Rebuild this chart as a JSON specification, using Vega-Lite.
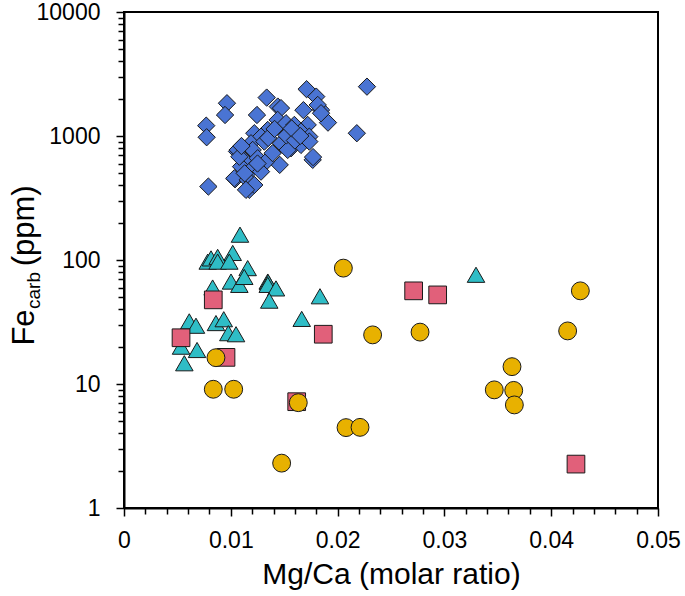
{
  "$schema": "https://vega.github.io/schema/vega-lite/v6.json",
  "width": 534,
  "height": 496,
  "autosize": {"type": "none"},
  "padding": {"left": 124, "top": 12, "right": 27, "bottom": 88},
  "background": "white",
  "config": {
    "font": "Liberation Sans",
    "view": {"stroke": "black", "strokeWidth": 2},
    "axis": {
      "grid": false,
      "domainColor": "black",
      "domainWidth": 2,
      "tickColor": "black",
      "tickWidth": 1.5,
      "labelColor": "black",
      "titleColor": "black",
      "labelFont": "Liberation Sans",
      "titleFont": "Liberation Sans",
      "titleFontWeight": "normal",
      "labelOverlap": false,
      "labelFlush": false
    }
  },
  "data": {
    "values": [
      {"group": "A", "mgca": 0.02275, "fe": 2500},
      {"group": "A", "mgca": 0.0218, "fe": 1053},
      {"group": "A", "mgca": 0.0171, "fe": 2384},
      {"group": "A", "mgca": 0.018, "fe": 2078},
      {"group": "A", "mgca": 0.01845, "fe": 1623},
      {"group": "A", "mgca": 0.0191, "fe": 1282},
      {"group": "A", "mgca": 0.0168, "fe": 1616},
      {"group": "A", "mgca": 0.01336, "fe": 2041},
      {"group": "A", "mgca": 0.0144, "fe": 1727},
      {"group": "A", "mgca": 0.0147, "fe": 1679},
      {"group": "A", "mgca": 0.00964, "fe": 1838},
      {"group": "A", "mgca": 0.00946, "fe": 1477},
      {"group": "A", "mgca": 0.0077, "fe": 1212},
      {"group": "A", "mgca": 0.00774, "fe": 977},
      {"group": "A", "mgca": 0.0079, "fe": 391},
      {"group": "A", "mgca": 0.01245, "fe": 1477},
      {"group": "A", "mgca": 0.0172, "fe": 1229},
      {"group": "A", "mgca": 0.01767, "fe": 642},
      {"group": "A", "mgca": 0.0177, "fe": 676},
      {"group": "A", "mgca": 0.01458, "fe": 585},
      {"group": "A", "mgca": 0.01173, "fe": 368},
      {"group": "A", "mgca": 0.0104, "fe": 448},
      {"group": "A", "mgca": 0.01058, "fe": 751},
      {"group": "A", "mgca": 0.01814, "fe": 1780},
      {"group": "A", "mgca": 0.01845, "fe": 1527},
      {"group": "A", "mgca": 0.01439, "fe": 1348},
      {"group": "A", "mgca": 0.01517, "fe": 1268},
      {"group": "A", "mgca": 0.01595, "fe": 1228},
      {"group": "A", "mgca": 0.01346, "fe": 1119},
      {"group": "A", "mgca": 0.0122, "fe": 1053},
      {"group": "A", "mgca": 0.01283, "fe": 988},
      {"group": "A", "mgca": 0.01533, "fe": 1053},
      {"group": "A", "mgca": 0.01657, "fe": 1086},
      {"group": "A", "mgca": 0.01735, "fe": 988},
      {"group": "A", "mgca": 0.0147, "fe": 874},
      {"group": "A", "mgca": 0.01564, "fe": 797},
      {"group": "A", "mgca": 0.01657, "fe": 847},
      {"group": "A", "mgca": 0.01735, "fe": 901},
      {"group": "A", "mgca": 0.01189, "fe": 874},
      {"group": "A", "mgca": 0.01314, "fe": 901},
      {"group": "A", "mgca": 0.01065, "fe": 772},
      {"group": "A", "mgca": 0.01205, "fe": 772},
      {"group": "A", "mgca": 0.01126, "fe": 642},
      {"group": "A", "mgca": 0.01252, "fe": 662},
      {"group": "A", "mgca": 0.0133, "fe": 621},
      {"group": "A", "mgca": 0.01096, "fe": 566},
      {"group": "A", "mgca": 0.01189, "fe": 533},
      {"group": "A", "mgca": 0.01283, "fe": 516},
      {"group": "A", "mgca": 0.01033, "fe": 456},
      {"group": "A", "mgca": 0.01158, "fe": 443},
      {"group": "A", "mgca": 0.0122, "fe": 403},
      {"group": "A", "mgca": 0.01142, "fe": 368},
      {"group": "A", "mgca": 0.01392, "fe": 727},
      {"group": "A", "mgca": 0.01533, "fe": 772},
      {"group": "A", "mgca": 0.0135, "fe": 965},
      {"group": "A", "mgca": 0.0141, "fe": 1140},
      {"group": "A", "mgca": 0.0152, "fe": 1010},
      {"group": "A", "mgca": 0.0108, "fe": 680},
      {"group": "A", "mgca": 0.0113, "fe": 500},
      {"group": "A", "mgca": 0.016, "fe": 920},
      {"group": "A", "mgca": 0.0125, "fe": 600},
      {"group": "A", "mgca": 0.011, "fe": 830},
      {"group": "A", "mgca": 0.0157, "fe": 1150},
      {"group": "A", "mgca": 0.0165, "fe": 1000},
      {"group": "B", "mgca": 0.01086, "fe": 160},
      {"group": "B", "mgca": 0.00784, "fe": 97},
      {"group": "B", "mgca": 0.00815, "fe": 103},
      {"group": "B", "mgca": 0.00877, "fe": 106},
      {"group": "B", "mgca": 0.00877, "fe": 97},
      {"group": "B", "mgca": 0.01018, "fe": 114},
      {"group": "B", "mgca": 0.00986, "fe": 97},
      {"group": "B", "mgca": 0.01158, "fe": 86},
      {"group": "B", "mgca": 0.01002, "fe": 67},
      {"group": "B", "mgca": 0.0108, "fe": 63},
      {"group": "B", "mgca": 0.01126, "fe": 73},
      {"group": "B", "mgca": 0.01346, "fe": 67},
      {"group": "B", "mgca": 0.0135, "fe": 66},
      {"group": "B", "mgca": 0.01346, "fe": 63},
      {"group": "B", "mgca": 0.01423, "fe": 59},
      {"group": "B", "mgca": 0.0136, "fe": 47},
      {"group": "B", "mgca": 0.0083, "fe": 60},
      {"group": "B", "mgca": 0.01835, "fe": 51},
      {"group": "B", "mgca": 0.01664, "fe": 33.5},
      {"group": "B", "mgca": 0.00611, "fe": 32},
      {"group": "B", "mgca": 0.00674, "fe": 29.5},
      {"group": "B", "mgca": 0.00861, "fe": 31},
      {"group": "B", "mgca": 0.00934, "fe": 33.3},
      {"group": "B", "mgca": 0.00977, "fe": 25.7},
      {"group": "B", "mgca": 0.01049, "fe": 25.2},
      {"group": "B", "mgca": 0.00534, "fe": 20},
      {"group": "B", "mgca": 0.00684, "fe": 18.8},
      {"group": "B", "mgca": 0.00565, "fe": 14.7},
      {"group": "B", "mgca": 0.03296, "fe": 76},
      {"group": "C", "mgca": 0.00836, "fe": 47.7},
      {"group": "C", "mgca": 0.00534, "fe": 23.6},
      {"group": "C", "mgca": 0.00955, "fe": 16.4},
      {"group": "C", "mgca": 0.01866, "fe": 25.2},
      {"group": "C", "mgca": 0.02712, "fe": 56.4},
      {"group": "C", "mgca": 0.02937, "fe": 52.3},
      {"group": "C", "mgca": 0.04232, "fe": 2.26},
      {"group": "C", "mgca": 0.01617, "fe": 7.2},
      {"group": "D", "mgca": 0.02054, "fe": 86},
      {"group": "D", "mgca": 0.02328, "fe": 24.9},
      {"group": "D", "mgca": 0.00861, "fe": 16.3},
      {"group": "D", "mgca": 0.00836, "fe": 9.07},
      {"group": "D", "mgca": 0.01027, "fe": 9.07},
      {"group": "D", "mgca": 0.01632, "fe": 7.07},
      {"group": "D", "mgca": 0.02079, "fe": 4.45},
      {"group": "D", "mgca": 0.0221, "fe": 4.47},
      {"group": "D", "mgca": 0.01476, "fe": 2.3},
      {"group": "D", "mgca": 0.04273, "fe": 56.4},
      {"group": "D", "mgca": 0.04154, "fe": 26.8},
      {"group": "D", "mgca": 0.02772, "fe": 26.2},
      {"group": "D", "mgca": 0.03633, "fe": 13.8},
      {"group": "D", "mgca": 0.03467, "fe": 8.97},
      {"group": "D", "mgca": 0.03649, "fe": 8.88},
      {"group": "D", "mgca": 0.03655, "fe": 6.78}
    ]
  },
  "layer": [
    {
      "mark": {"type": "point", "filled": true, "opacity": 1, "stroke": "#1a1a1a", "strokeWidth": 1},
      "encoding": {
        "x": {
          "field": "mgca",
          "type": "quantitative",
          "scale": {"domain": [0, 0.05], "nice": false, "zero": false},
          "axis": {
            "title": "Mg/Ca (molar ratio)",
            "titleFontSize": 30,
            "titleX": 267,
            "titleY": 51,
            "titleAlign": "center",
            "titleBaseline": "top",
            "labelFontSize": 23,
            "labelPadding": 13,
            "values": [0, 0.002, 0.004, 0.006, 0.008, 0.01, 0.012, 0.014, 0.016, 0.018, 0.02, 0.022, 0.024, 0.026, 0.028, 0.03, 0.032, 0.034, 0.036, 0.038, 0.04, 0.042, 0.044, 0.046, 0.048, 0.05],
            "labelExpr": "abs(datum.value * 100 - round(datum.value * 100)) < 0.001 ? format(datum.value, '~g') : ''",
            "tickSize": {"condition": {"test": "abs(datum.value * 100 - round(datum.value * 100)) < 0.001", "value": 8}, "value": 6}
          }
        },
        "y": {
          "field": "fe",
          "type": "quantitative",
          "scale": {"type": "log", "domain": [1, 10000], "nice": false},
          "axis": {
            "title": "Fe\u00a0\u00a0\u00a0\u00a0\u00a0(ppm)",
            "titleFontSize": 31,
            "titleAngle": 270,
            "titleAlign": "center",
            "titleBaseline": "alphabetic",
            "titleX": -91,
            "titleY": 253,
            "labelFontSize": 23,
            "labelPadding": 16,
            "values": [1, 2, 3, 4, 5, 6, 7, 8, 9, 10, 20, 30, 40, 50, 60, 70, 80, 90, 100, 200, 300, 400, 500, 600, 700, 800, 900, 1000, 2000, 3000, 4000, 5000, 6000, 7000, 8000, 9000, 10000],
            "labelExpr": "indexof([1, 10, 100, 1000, 10000], datum.value) >= 0 ? format(datum.value, 'd') : ''",
            "tickSize": {"condition": {"test": "indexof([1, 10, 100, 1000, 10000], datum.value) >= 0", "value": 8}, "value": 6}
          }
        },
        "shape": {
          "field": "group",
          "type": "nominal",
          "scale": {"domain": ["A", "B", "C", "D"], "range": ["diamond", "triangle-up", "square", "circle"]},
          "legend": null
        },
        "fill": {
          "field": "group",
          "type": "nominal",
          "scale": {"domain": ["A", "B", "C", "D"], "range": ["#4A74D3", "#2FBDC6", "#E1607A", "#E8B100"]},
          "legend": null
        },
        "size": {
          "field": "group",
          "type": "nominal",
          "scale": {"domain": ["A", "B", "C", "D"], "range": [300, 320, 270, 280]},
          "legend": null
        }
      }
    },
    {
      "data": {"values": [{}]},
      "mark": {"type": "rule", "opacity": 0},
      "encoding": {
        "y": {
          "datum": 1,
          "type": "quantitative",
          "axis": {
            "orient": "right",
            "title": "carb",
            "titleFontSize": 19,
            "titleAngle": 270,
            "titleAlign": "center",
            "titleBaseline": "alphabetic",
            "titleX": -619,
            "titleY": 278,
            "labels": false,
            "ticks": false,
            "domain": false,
            "grid": false
          }
        }
      }
    }
  ],
  "resolve": {"axis": {"y": "independent"}}
}
